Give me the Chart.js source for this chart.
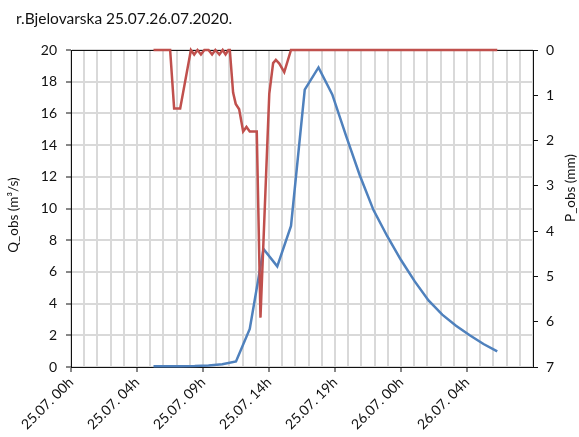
<!DOCTYPE html>
<html>
<head>
<meta charset="utf-8">
<script src="https://cdn.jsdelivr.net/npm/chart.js@4.4.1/dist/chart.umd.min.js"></script>
<style>
  html, body { margin: 0; padding: 0; background: #fff; }
  #wrap { width: 579px; height: 437px; position: relative; }
</style>
</head>
<body>
<div id="wrap"><canvas id="chart"></canvas></div>
<script>
// time in hours from 25.07. 00h
const qHours = [6, 7, 8, 9, 10, 11, 12, 13, 14, 15, 16, 17, 18, 19, 20, 21, 22, 23, 24, 25, 26, 27, 28, 29, 30, 31];
const qValues = [0.05, 0.05, 0.05, 0.06, 0.1, 0.18, 0.35, 2.4, 7.45, 6.35, 8.9, 17.5, 18.9, 17.2, 14.6, 12.1, 9.9, 8.25, 6.75, 5.4, 4.2, 3.3, 2.6, 2.0, 1.45, 0.98];

const pHours = [6, 7.21, 7.5, 7.94, 8.72, 8.96, 9.2, 9.45, 9.7, 10.0, 10.26, 10.5, 10.79, 11.03, 11.24, 11.45, 11.55, 11.79, 11.98, 12.23, 12.52, 12.76, 13.0, 13.51, 13.78, 14.42, 14.7, 14.9, 15.15, 15.51, 16.0, 31];
const pValues = [0, 0, 1.29, 1.29, 0, 0.1, 0, 0.1, 0, 0, 0.1, 0, 0.1, 0, 0.1, 0, 0, 0.94, 1.19, 1.31, 1.8, 1.7, 1.8, 1.8, 5.91, 0.97, 0.29, 0.22, 0.3, 0.49, 0, 0];

const xTickLabels = ["25.07. 00h", "25.07. 04h", "25.07. 09h", "25.07. 14h", "25.07. 19h", "26.07. 00h", "26.07. 04h"];
const xMin = 0, xMax = 33.6, xStep = 0.96;
const qMax = 20, qStep = 2;
const pMax = 7, pStep = 1;

const FONT = "Lato, 'Open Sans', sans-serif";
const GRID = "#d9d9d9";
const INK = "#111";

const qData = qHours.map((h, i) => ({ x: h, y: qValues[i] }));
const pData = pHours.map((h, i) => ({ x: h, y: pValues[i] }));

// top frame line + axis titles (right one reads bottom-to-top like the left)
const framePlugin = {
  id: "frame",
  beforeDatasetsDraw(chart) {
    const { ctx, chartArea: a } = chart;
    ctx.save();
    ctx.strokeStyle = INK;
    ctx.lineWidth = 1;
    ctx.beginPath();
    ctx.moveTo(a.left, a.top + 0.5);
    ctx.lineTo(a.right, a.top + 0.5);
    ctx.stroke();
    ctx.restore();
  },
  afterDraw(chart) {
    const { ctx } = chart;
    ctx.save();
    ctx.fillStyle = INK;
    ctx.font = "13.5px " + FONT;
    ctx.textAlign = "center";
    ctx.textBaseline = "middle";
    ctx.translate(14, 215);
    ctx.rotate(-Math.PI / 2);
    ctx.fillText("Q_obs (m³/s)", 0, 0);
    ctx.restore();

    ctx.save();
    ctx.fillStyle = INK;
    ctx.font = "13.5px " + FONT;
    ctx.textAlign = "center";
    ctx.textBaseline = "middle";
    ctx.translate(571, 188);
    ctx.rotate(-Math.PI / 2);
    ctx.fillText("P_obs (mm)", 0, 0);
    ctx.restore();
  }
};

new Chart(document.getElementById("chart"), {
  type: "line",
  data: {
    datasets: [
      {
        label: "P_obs",
        data: pData,
        yAxisID: "y2",
        borderColor: "#c0504d",
        borderWidth: 2.5,
        pointRadius: 0,
        tension: 0,
        clip: 4,
        order: 0
      },
      {
        label: "Q_obs",
        data: qData,
        yAxisID: "y",
        borderColor: "#4f81bd",
        borderWidth: 2.5,
        pointRadius: 0,
        tension: 0,
        clip: 4,
        order: 1
      }
    ]
  },
  options: {
    responsive: true,
    maintainAspectRatio: false,
    animation: false,
    layout: { padding: { left: 16, right: 0, top: 0, bottom: 0 } },
    plugins: {
      legend: { display: false },
      tooltip: { enabled: false },
      title: {
        display: true,
        text: "r.Bjelovarska 25.07.26.07.2020.",
        align: "start",
        color: INK,
        font: { family: FONT, size: 15.5, weight: "normal" },
        padding: { top: 10, bottom: 21.4 }
      }
    },
    scales: {
      x: {
        type: "linear",
        min: xMin,
        max: xMax,
        afterFit: (s) => { s.height = 70; },
        border: { display: true, color: INK, width: 1 },
        grid: {
          color: GRID,
          lineWidth: 2,
          tickLength: 5,
          tickWidth: 1,
          tickColor: (c) => (c.index % 5 === 0 && c.index / 5 < xTickLabels.length ? INK : "rgba(0,0,0,0)")
        },
        ticks: {
          stepSize: xStep,
          autoSkip: false,
          minRotation: 45,
          maxRotation: 45,
          padding: 2,
          color: INK,
          font: { family: FONT, size: 14 },
          callback: (v, i) => (i % 5 === 0 && xTickLabels[i / 5] ? xTickLabels[i / 5] : "")
        }
      },
      y: {
        position: "left",
        min: 0,
        max: qMax,
        afterFit: (s) => { s.width = 55; },
        border: { display: true, color: INK, width: 1 },
        grid: { color: GRID, lineWidth: 2, tickLength: 5, tickWidth: 1, tickColor: INK },
        ticks: {
          stepSize: qStep,
          padding: 9,
          color: INK,
          font: { family: FONT, size: 14 }
        }
      },
      y2: {
        position: "right",
        min: 0,
        max: pMax,
        reverse: true,
        afterFit: (s) => { s.width = 46; },
        border: { display: true, color: INK, width: 1 },
        grid: { drawOnChartArea: false, tickLength: 5, tickWidth: 1, tickColor: INK },
        ticks: {
          stepSize: pStep,
          padding: 8,
          color: INK,
          font: { family: FONT, size: 14 }
        }
      }
    }
  },
  plugins: [framePlugin]
});
</script>
</body>
</html>
